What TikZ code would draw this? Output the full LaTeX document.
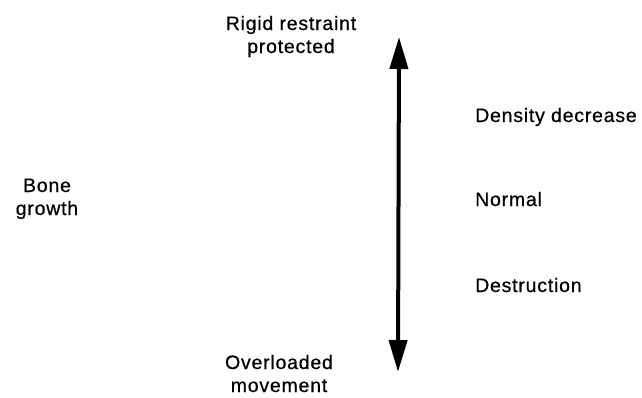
\documentclass[tikz,border=0pt]{standalone}
\usepackage{fontspec}
\setmainfont[LetterSpace=4,FakeBold=0.6]{Liberation Sans}
\usetikzlibrary{arrows.meta}
\begin{document}
\begin{tikzpicture}[x=1pt,y=-1pt,
  lbl/.style={font=\fontsize{19.5}{23}\selectfont, inner sep=0pt, align=center},
  rlbl/.style={font=\fontsize{19.5}{23}\selectfont, inner sep=0pt, anchor=base west},
  bigarrow/.style={line width=4pt, {Triangle[length=32pt,width=18pt]}-{Triangle[length=32pt,width=18pt]}}]
\useasboundingbox (0,0) rectangle (642,397);
\node[lbl, anchor=base] (rigid) at (291,53) {Rigid restraint\\protected};
\node[lbl, anchor=base] (bone) at (47,215) {Bone\\growth};
\node[lbl, anchor=base] (over) at (279,392) {Overloaded\\movement};
\node[rlbl] (dens) at (475,122) {Density decrease};
\node[rlbl] (norm) at (475,206) {Normal};
\node[rlbl] (dest) at (475,292) {Destruction};
\coordinate (top) at (399,37);
\coordinate (bot) at (398,372);
\draw[bigarrow] (bot) -- (top);
\end{tikzpicture}
\end{document}
